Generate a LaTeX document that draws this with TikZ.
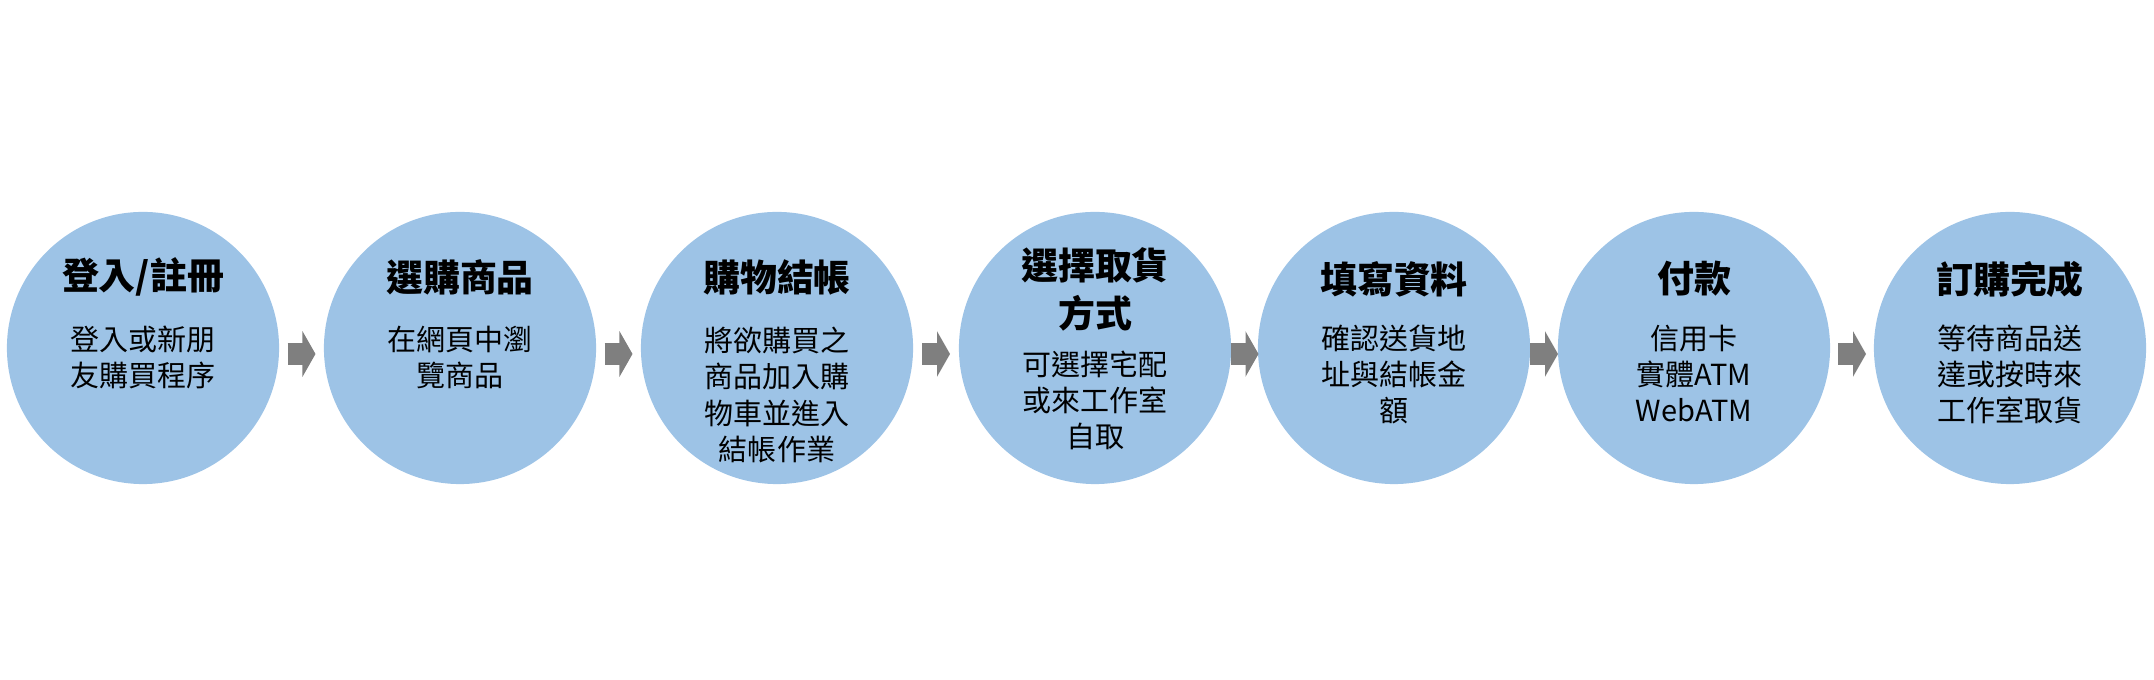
\documentclass[tikz,border=0pt]{standalone}
\usepackage{fontspec}
\setmainfont{Noto Sans CJK TC}
\usetikzlibrary{arrows.meta,calc}
\definecolor{stageblue}{HTML}{9DC3E6}
\definecolor{arrowgray}{HTML}{7F7F7F}

\begin{document}
\begin{tikzpicture}[x=0.01cm,y=-0.01cm,
  stage/.style={circle,fill=stageblue,minimum size=2.72cm,inner sep=0pt},
  stagetitle/.style={font=\bfseries\fontsize{10.5}{13.7}\selectfont,align=center,inner sep=0pt},
  stagetext/.style={font=\fontsize{8.25}{10.24}\selectfont,align=center,inner sep=0pt},
  flow/.style={arrowgray,line width=0.22cm,-{Triangle[length=0.13cm,width=0.45cm]}}]
  \useasboundingbox (0,0) rectangle (2154,680);
  % stages: x / title y / text y / title / text
  \foreach \x/\ty/\by/\ttl/\dsc [count=\i] in {
      143/277/357/{登入/註冊}/{登入或新朋\\友購買程序},
      460/277/357/{選購商品}/{在網頁中瀏\\覽商品},
      777/277/395/{購物結帳}/{將欲購買之\\商品加入購\\物車並進入\\結帳作業},
      1095/289/400/{選擇取貨\\方式}/{可選擇宅配\\或來工作室\\自取},
      1394/279/374/{填寫資料}/{確認送貨地\\址與結帳金\\額},
      1694/279/374/{付款}/{信用卡\\實體ATM\\WebATM},
      2010/279/374/{訂購完成}/{等待商品送\\達或按時來\\工作室取貨}}{
    \node[stage] (c\i) at (\x,348) {};
    \node[stagetitle] (t\i) at (\x,\ty) {\ttl};
    \node[stagetext] (d\i) at (\x,\by) {\dsc};
  }
  % block arrows between stages
  \foreach \i [count=\j from 2] in {1,...,6}
    \draw[flow] ($(c\i.east)!.5!(c\j.west)+(-14,6)$) -- ($(c\i.east)!.5!(c\j.west)+(14,6)$);
\end{tikzpicture}
\end{document}
